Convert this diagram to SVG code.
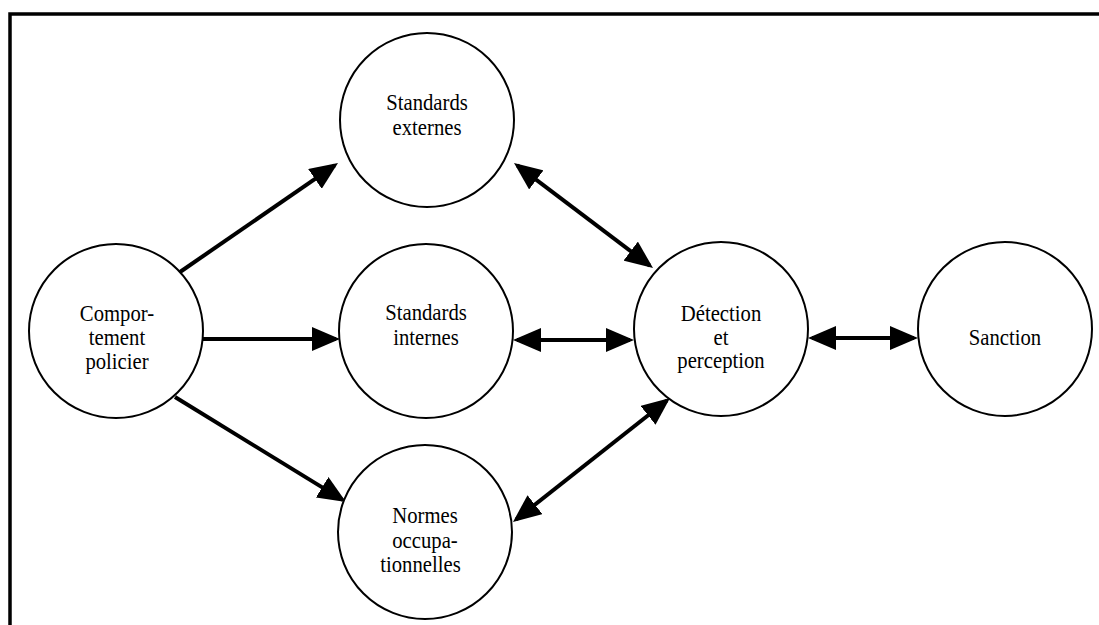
<svg xmlns="http://www.w3.org/2000/svg" width="1099" height="625" viewBox="0 0 1099 625">
  <style>
    .node { fill: #fff; stroke: #000; stroke-width: 2; }
    .lbl { font-family: "Liberation Serif", "Times New Roman", "DejaVu Serif", serif; font-size: 23px; fill: #000; text-anchor: middle; }
    .edge { stroke: #000; stroke-width: 4; fill: none; }
    .frame { stroke: #000; stroke-width: 3.5; fill: none; }
  </style>
  <defs>
    <marker id="ah" markerUnits="userSpaceOnUse" markerWidth="28" markerHeight="24" refX="24" refY="12" orient="auto-start-reverse" viewBox="0 0 28 24">
      <path d="M0,0 L28,12 L0,24 z" fill="#000"/>
    </marker>
  </defs>
  <rect width="1099" height="625" fill="#fff"/>
  <g id="frame">
    <path class="frame" d="M10,625 L10,14 L1099,14"/>
  </g>
  <g id="connectors">
    <line class="edge" x1="180" y1="272" x2="334.7" y2="165.3" marker-end="url(#ah)"/>
    <line class="edge" x1="203" y1="339" x2="336" y2="339" marker-end="url(#ah)"/>
    <line class="edge" x1="175" y1="397" x2="342.6" y2="499.9" marker-end="url(#ah)"/>
    <line class="edge" x1="517.2" y1="165.4" x2="649.8" y2="265.6" marker-start="url(#ah)" marker-end="url(#ah)"/>
    <line class="edge" x1="517" y1="340" x2="630" y2="340" marker-start="url(#ah)" marker-end="url(#ah)"/>
    <line class="edge" x1="516.1" y1="519.5" x2="666.9" y2="400.5" marker-start="url(#ah)" marker-end="url(#ah)"/>
    <line class="edge" x1="812" y1="338" x2="914" y2="338" marker-start="url(#ah)" marker-end="url(#ah)"/>
  </g>
  <g id="comportement">
    <circle class="node" cx="116" cy="331" r="87"/>
    <g transform="translate(117 0) scale(0.9 1)">
      <text class="lbl" x="0" y="321">Compor-</text>
      <text class="lbl" x="0" y="345">tement</text>
      <text class="lbl" x="0" y="369">policier</text>
    </g>
  </g>
  <g id="standards-externes">
    <circle class="node" cx="427" cy="120" r="87"/>
    <g transform="translate(427 0) scale(0.9 1)">
      <text class="lbl" x="0" y="110">Standards</text>
      <text class="lbl" x="0" y="135">externes</text>
    </g>
  </g>
  <g id="standards-internes">
    <circle class="node" cx="426" cy="331" r="87"/>
    <g transform="translate(426 0) scale(0.9 1)">
      <text class="lbl" x="0" y="320">Standards</text>
      <text class="lbl" x="0" y="345">internes</text>
    </g>
  </g>
  <g id="normes">
    <circle class="node" cx="425" cy="532" r="87"/>
    <g transform="translate(425 0) scale(0.9 1)">
      <text class="lbl" x="0" y="523">Normes</text>
      <text class="lbl" x="0" y="548">occupa-</text>
      <text class="lbl" x="-5" y="572">tionnelles</text>
    </g>
  </g>
  <g id="detection">
    <circle class="node" cx="721" cy="329" r="87"/>
    <g transform="translate(721 0) scale(0.9 1)">
      <text class="lbl" x="0" y="321">Détection</text>
      <text class="lbl" x="0" y="345">et</text>
      <text class="lbl" x="0" y="368">perception</text>
    </g>
  </g>
  <g id="sanction">
    <circle class="node" cx="1005" cy="329" r="87"/>
    <g transform="translate(1005 0) scale(0.9 1)">
      <text class="lbl" x="0" y="345">Sanction</text>
    </g>
  </g>
</svg>
